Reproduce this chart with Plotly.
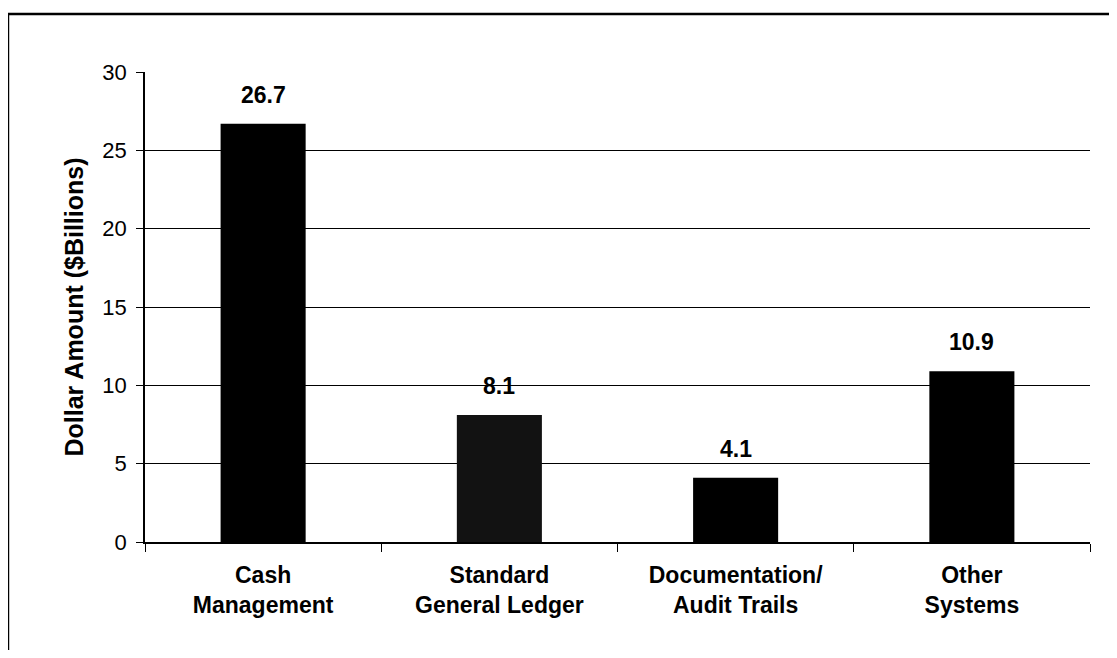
import plotly.graph_objects as go

categories = ["Cash<br>Management", "Standard<br>General Ledger", "Documentation/<br>Audit Trails", "Other<br>Systems"]
values = [26.7, 8.1, 4.1, 10.9]
value_labels = ["26.7", "8.1", "4.1", "10.9"]
bar_colors = ["#000000", "#121212", "#000000", "#000000"]
y_ticks = [0, 5, 10, 15, 20, 25, 30]

FONT = "Liberation Sans, Arial, sans-serif"

fig = go.Figure()
fig.add_trace(go.Bar(
    x=categories, y=values, width=0.36,
    marker=dict(color=bar_colors, line=dict(width=0)),
    hoverinfo="skip",
))

for c, v, t in zip(categories, values, value_labels):
    fig.add_annotation(x=c, y=v, text="<b>%s</b>" % t, showarrow=False,
                       yanchor="bottom", yshift=14,
                       font=dict(family=FONT, size=23, color="#000"))

# outer frame of the scanned chart
fig.add_shape(type="rect", xref="paper", yref="paper",
              x0=-0.145, x1=1.3, y0=-0.6, y1=1.1234,
              line=dict(color="#000", width=2.5), fillcolor="rgba(0,0,0,0)", layer="below")

fig.update_layout(
    width=1101, height=642,
    margin=dict(l=137, r=19, t=64, b=108),
    paper_bgcolor="white", plot_bgcolor="white",
    showlegend=False,
    font=dict(family=FONT, color="#000"),
    xaxis=dict(
        type="category",
        tickson="boundaries",
        ticks="outside", ticklen=8, tickwidth=1.2, tickcolor="#000",
        showline=True, linecolor="#000", linewidth=1.5,
        showgrid=False,
        tickfont=dict(family=FONT, size=23, color="#000", weight="bold"),
        ticklabelstandoff=12,
    ),
    yaxis=dict(
        range=[0, 30], tickvals=y_ticks,
        ticks="outside", ticklen=7, tickwidth=1.2, tickcolor="#000",
        showline=True, linecolor="#000", linewidth=1.5,
        showgrid=True, gridcolor="#000", gridwidth=1.3,
        zeroline=False,
        tickfont=dict(family=FONT, size=22, color="#000"),
        ticklabelstandoff=5,
        title=dict(text="<b>Dollar Amount ($Billions)</b>", standoff=12,
                   font=dict(family=FONT, size=25, color="#000")),
    ),
)

fig.write_html("out.html")
